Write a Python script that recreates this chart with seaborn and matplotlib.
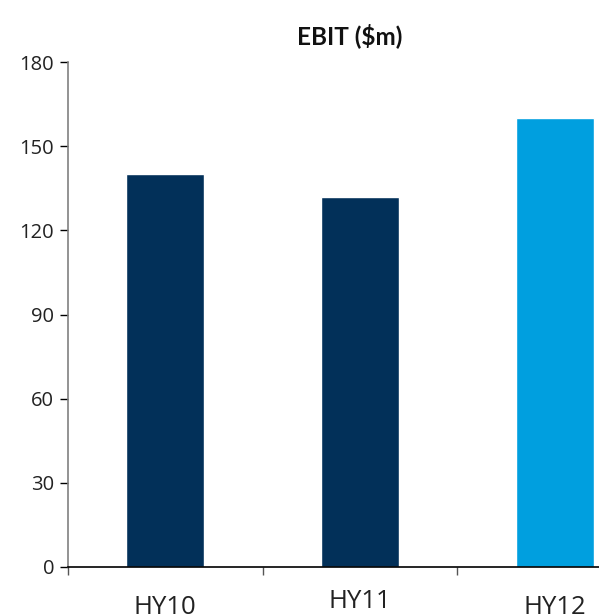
import matplotlib
matplotlib.use("Agg")
import matplotlib.pyplot as plt
import seaborn as sns
import pandas as pd
from matplotlib.ticker import FixedLocator

# EBIT by half-year
periods = ["HY10", "HY11", "HY12"]
ebit = [140, 132, 160]
bar_colors = ["#023059", "#023059", "#009FDF"]
y_ticks = [0, 30, 60, 90, 120, 150, 180]

sns.set_style("white")
plt.rcParams["font.family"] = ["Open Sans", "DejaVu Sans"]

df = pd.DataFrame({"period": periods, "ebit": ebit})

fig = plt.figure(figsize=(5.99, 6.15), dpi=100)
ax = fig.add_axes([68 / 599, 48 / 615, 584 / 599, 505 / 615])

sns.barplot(data=df, x="period", y="ebit", hue="period", palette=bar_colors,
            width=0.4, saturation=1, legend=False, ax=ax)

ax.set_xlim(-0.5, 2.5)
ax.set_ylim(0, 180)
ax.set_yticks(y_ticks)
ax.set_xlabel("")
ax.set_ylabel("")

for side in ["top", "right"]:
    ax.spines[side].set_visible(False)
ax.spines["left"].set_color("#808080")
ax.spines["left"].set_linewidth(1.2)
ax.spines["bottom"].set_color("#000000")
ax.spines["bottom"].set_linewidth(1.2)

ax.tick_params(axis="y", which="major", direction="out", length=6, width=1,
               color="#000000", labelsize=14.5, labelcolor="#222222", pad=4, left=True)
ax.tick_params(axis="x", which="major", length=0, labelsize=18.5, labelcolor="#222222", pad=20)
ax.xaxis.set_minor_locator(FixedLocator([-0.5, 0.5, 1.5]))
ax.tick_params(axis="x", which="minor", direction="out", length=6, width=1,
               color="#555555", bottom=True)

# middle label sits slightly higher
ax.xaxis.get_major_ticks()[1].set_pad(16)

fig.text(350 / 599, 1 - 36 / 615, "EBIT ($m)", ha="center", va="center",
         fontsize=17.5, fontweight="bold", family=["Lato", "DejaVu Sans"], color="#111111")

fig.savefig("out.png", dpi=100)
